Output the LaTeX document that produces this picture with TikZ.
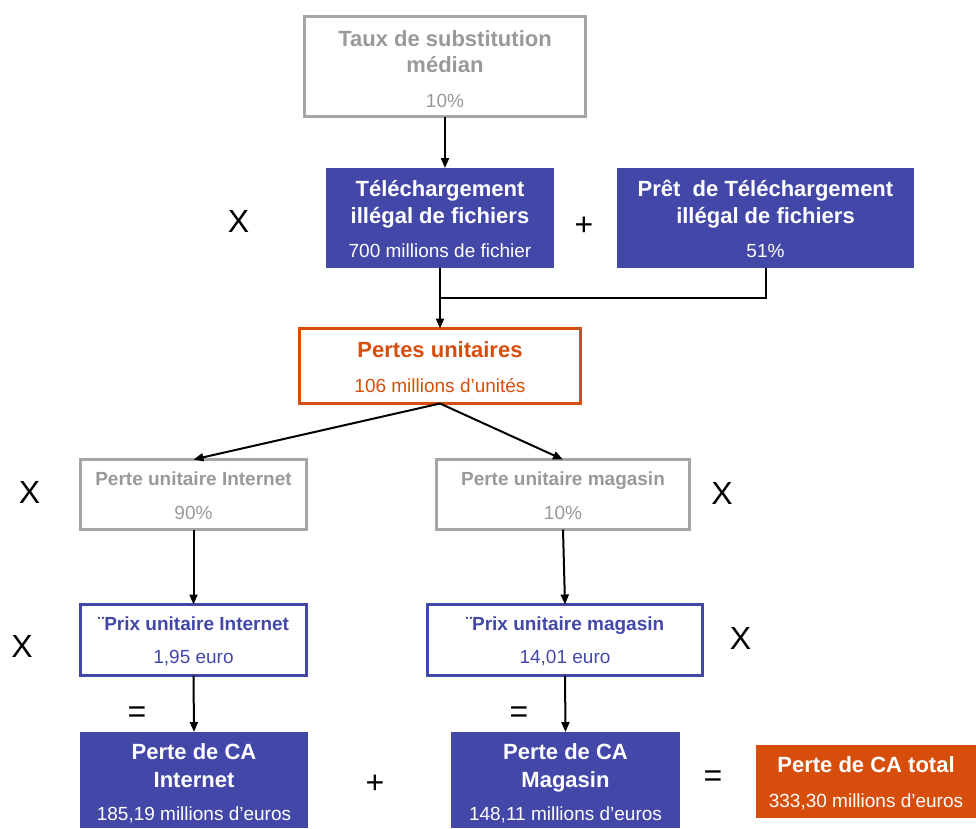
\documentclass[tikz,border=0pt]{standalone}
\usepackage{fontspec}
\setmainfont{Liberation Sans}
\usetikzlibrary{arrows.meta}
\definecolor{cblue}{RGB}{67,72,168}
\definecolor{cgrayb}{RGB}{166,166,166}
\definecolor{cgrayt}{RGB}{153,153,153}
\definecolor{corange}{RGB}{215,78,12}
\begin{document}
\begin{tikzpicture}[x=1pt,y=-1pt,
  boxbase/.style={rectangle,inner sep=0pt,outer sep=0pt},
  graybox/.style={boxbase,draw=cgrayb,line width=3pt},
  orangebox/.style={boxbase,draw=corange,line width=3pt},
  blueline/.style={boxbase,draw=cblue,line width=3pt},
  bluefill/.style={boxbase,fill=cblue},
  orangefill/.style={boxbase,fill=corange},
  ttl/.style={anchor=base,inner sep=0pt,font=\fontsize{22}{26}\selectfont\bfseries},
  val/.style={anchor=base,inner sep=0pt,font=\fontsize{19}{22}\selectfont},
  ttls/.style={anchor=base,inner sep=0pt,font=\fontsize{19}{22}\selectfont\bfseries},
  sym/.style={inner sep=0pt,font=\fontsize{32}{36}\selectfont},
  arr/.style={line width=2pt,-{Triangle[length=10pt,width=8pt]}},
  conn/.style={line width=2pt}]
\useasboundingbox (0,0) rectangle (976,828);

% boxes
\node[graybox,minimum width=281pt,minimum height=100pt] (taux) at (445,66.5) {};
\node[bluefill,minimum width=228pt,minimum height=100pt] (tele) at (440,218) {};
\node[bluefill,minimum width=297pt,minimum height=100pt] (pret) at (765.5,218) {};
\node[orangebox,minimum width=281pt,minimum height=75pt] (pertes) at (440,366) {};
\node[graybox,minimum width=226pt,minimum height=70pt] (pui) at (193.5,494.5) {};
\node[graybox,minimum width=253pt,minimum height=70pt] (pum) at (563,494.5) {};
\node[blueline,minimum width=226pt,minimum height=71pt] (prixi) at (193.5,640) {};
\node[blueline,minimum width=275pt,minimum height=71pt] (prixm) at (565,640) {};
\node[bluefill,minimum width=228pt,minimum height=96pt] (cai) at (194,780) {};
\node[bluefill,minimum width=229pt,minimum height=96pt] (cam) at (565.5,780) {};
\node[orangefill,minimum width=220pt,minimum height=73pt] (tot) at (866,781.5) {};

% texts
\node[ttl,text=cgrayt] (t1a) at (445,46) {Taux de substitution};
\node[ttl,text=cgrayt] (t1b) at (445,72.5) {médian};
\node[val,text=cgrayt] (t1c) at (445,107.5) {10\%};

\node[ttl,text=white] (t2a) at (440,196) {Téléchargement};
\node[ttl,text=white] (t2b) at (440,223) {illégal de fichiers};
\node[val,text=white] (t2c) at (440,257) {700 millions de fichier};

\node[ttl,text=white] (t3a) at (765.5,196) {Prêt\ \ de Téléchargement};
\node[ttl,text=white] (t3b) at (765.5,223) {illégal de fichiers};
\node[val,text=white] (t3c) at (765.5,257) {51\%};

\node[ttl,text=corange] (t4a) at (440,357) {Pertes unitaires};
\node[val,text=corange] (t4b) at (440,392) {106 millions d’unités};

\node[ttls,text=cgrayt] (t5a) at (193.5,485) {Perte unitaire Internet};
\node[val,text=cgrayt] (t5b) at (193.5,519) {90\%};
\node[ttls,text=cgrayt] (t6a) at (563,485) {Perte unitaire magasin};
\node[val,text=cgrayt] (t6b) at (563,519) {10\%};

\node[ttls,text=cblue] (t7a) at (193.5,630) {¨Prix unitaire Internet};
\node[val,text=cblue] (t7b) at (193.5,663) {1,95 euro};
\node[ttls,text=cblue] (t8a) at (565,630) {¨Prix unitaire magasin};
\node[val,text=cblue] (t8b) at (565,663) {14,01 euro};

\node[ttl,text=white] (t9a) at (194,759) {Perte de CA};
\node[ttl,text=white] (t9b) at (194,787) {Internet};
\node[val,text=white] (t9c) at (194,820) {185,19 millions d’euros};
\node[ttl,text=white] (t10a) at (565.5,759) {Perte de CA};
\node[ttl,text=white] (t10b) at (565.5,787) {Magasin};
\node[val,text=white] (t10c) at (565.5,820) {148,11 millions d’euros};

\node[ttl,text=white] (t11a) at (866,772) {Perte de CA total};
\node[val,text=white] (t11b) at (866,807) {333,30 millions d’euros};

% operators
\node[sym] (s1) at (238.5,221) {X};
\node[sym] (s2) at (584,226) {+};
\node[sym] (s3) at (29.5,492.5) {X};
\node[sym] (s4) at (722,493) {X};
\node[sym] (s5) at (22,646.5) {X};
\node[sym] (s6) at (740.5,638) {X};
\node[sym] (s7) at (137,714.5) {=};
\node[sym] (s8) at (519,715) {=};
\node[sym] (s9) at (375,784.5) {+};
\node[sym] (s10) at (713,779) {=};

% connectors
\coordinate (jn) at (440,298);
\draw[arr] (taux.south) -- (taux.south |- tele.north);
\draw[arr] (tele.south) -- (pertes.north);
\draw[conn] (pret.south) |- (jn);
\draw[arr] (pertes.south) -- (pui.north);
\draw[arr] (pertes.south) -- (pum.north);
\draw[arr] (pui.south) -- (prixi.north);
\draw[arr] (pum.south) -- (prixm.north);
\draw[arr] (prixi.south) -- (cai.north);
\draw[arr] (prixm.south) -- (cam.north);
\end{tikzpicture}
\end{document}
